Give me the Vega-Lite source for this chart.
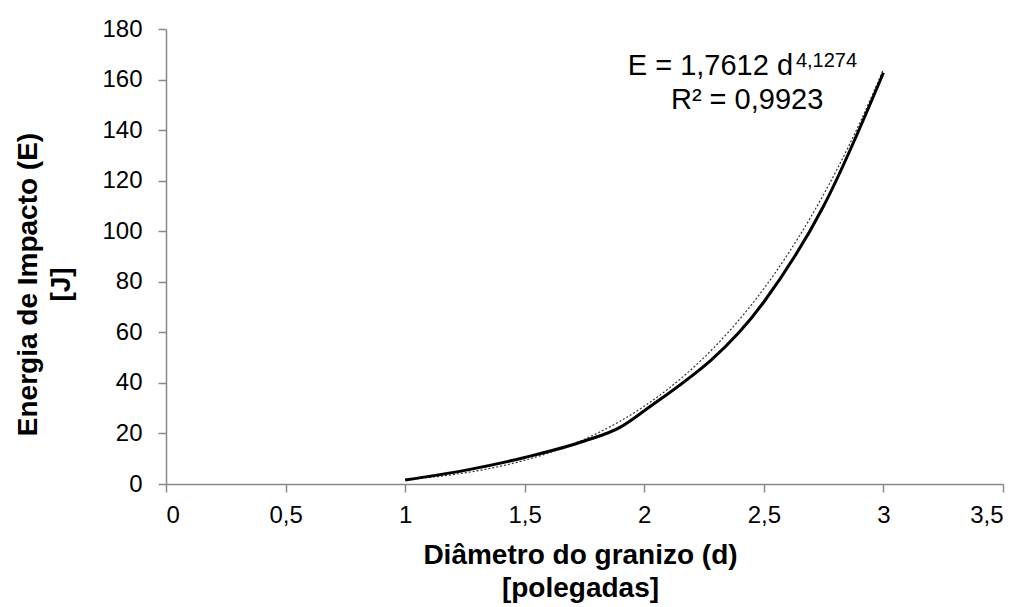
{
  "$schema": "https://vega.github.io/schema/vega-lite/v6.json",
  "autosize": {"type": "none"},
  "width": 837,
  "height": 455,
  "padding": {"left": 166, "top": 29, "right": 21, "bottom": 123},
  "background": "white",
  "config": {
    "view": {"stroke": null},
    "font": "Liberation Sans",
    "axis": {"grid": false, "domainColor": "#888888", "domainWidth": 1.5, "tickColor": "#888888", "tickWidth": 1.5, "tickSize": 8, "labelColor": "#000000", "labelFont": "Liberation Sans", "labelFontSize": 24, "titleFont": "Liberation Sans", "titleFontSize": 28, "titleFontWeight": "bold", "titleColor": "#000000", "titleLineHeight": 33}
  },
  "datasets": {
    "solid": [
      {"d": 1.0, "E": 1.6},
      {"d": 1.25, "E": 5.4},
      {"d": 1.5, "E": 10.5},
      {"d": 1.75, "E": 17.0},
      {"d": 1.9, "E": 22.5},
      {"d": 2.0, "E": 29.0},
      {"d": 2.5, "E": 72.0},
      {"d": 2.75, "E": 110.0},
      {"d": 3.0, "E": 162.7}
    ],
    "trend": [
      {"d": 1.0, "E": 1.76}, {"d": 1.1, "E": 2.61}, {"d": 1.2, "E": 3.74}, {"d": 1.3, "E": 5.2},
      {"d": 1.4, "E": 7.06}, {"d": 1.5, "E": 9.39}, {"d": 1.6, "E": 12.25}, {"d": 1.7, "E": 15.74},
      {"d": 1.8, "E": 19.93}, {"d": 1.9, "E": 24.91}, {"d": 2.0, "E": 30.78}, {"d": 2.1, "E": 37.65},
      {"d": 2.2, "E": 45.62}, {"d": 2.3, "E": 54.81}, {"d": 2.4, "E": 65.33}, {"d": 2.5, "E": 77.3},
      {"d": 2.6, "E": 90.9}, {"d": 2.7, "E": 106.2}, {"d": 2.8, "E": 123.4}, {"d": 2.9, "E": 142.6},
      {"d": 3.0, "E": 164.1}
    ],
    "labels": [
      {"d": 2.622, "E": 165.4, "text": "E = 1,7612 d", "part": "main"},
      {"d": 2.634, "E": 167.5, "text": "4,1274", "part": "sup"},
      {"d": 2.43, "E": 151.9, "text": "R² = 0,9923", "part": "r2"}
    ]
  },
  "layer": [
    {
      "data": {"name": "trend"},
      "mark": {"type": "line", "color": "#333333", "strokeWidth": 1.2, "strokeDash": [2, 2], "interpolate": "monotone"},
      "encoding": {
        "x": {"field": "d", "type": "quantitative", "scale": {"domain": [0, 3.5], "nice": false},
          "axis": {"values": [0, 0.5, 1, 1.5, 2, 2.5, 3, 3.5], "labelExpr": "replace(toString(datum.value), '.', ',')", "labelPadding": 11, "title": ["Diâmetro do granizo (d)", "[polegadas]"], "titleX": 414, "titleY": 71, "titleBaseline": "middle", "titleAnchor": "middle"}},
        "y": {"field": "E", "type": "quantitative", "scale": {"domain": [0, 180], "nice": false},
          "axis": {"values": [0, 20, 40, 60, 80, 100, 120, 140, 160, 180], "labelPadding": 16, "title": ["Energia de Impacto (E)", "[J]"], "titleX": -138, "titleY": 255, "titleBaseline": "middle", "titleAnchor": "middle"}}
      }
    },
    {
      "data": {"name": "solid"},
      "mark": {"type": "line", "color": "#000000", "strokeWidth": 3, "interpolate": "monotone"},
      "encoding": {
        "x": {"field": "d", "type": "quantitative"},
        "y": {"field": "E", "type": "quantitative"}
      }
    },
    {
      "data": {"name": "labels"},
      "transform": [{"filter": "datum.part == 'main'"}],
      "mark": {"type": "text", "align": "right", "baseline": "middle", "fontSize": 29, "font": "Liberation Sans", "color": "#000000"},
      "encoding": {
        "x": {"field": "d", "type": "quantitative"},
        "y": {"field": "E", "type": "quantitative"},
        "text": {"field": "text"}
      }
    },
    {
      "data": {"name": "labels"},
      "transform": [{"filter": "datum.part == 'sup'"}],
      "mark": {"type": "text", "align": "left", "baseline": "middle", "fontSize": 20, "font": "Liberation Sans", "color": "#000000"},
      "encoding": {
        "x": {"field": "d", "type": "quantitative"},
        "y": {"field": "E", "type": "quantitative"},
        "text": {"field": "text"}
      }
    },
    {
      "data": {"name": "labels"},
      "transform": [{"filter": "datum.part == 'r2'"}],
      "mark": {"type": "text", "align": "center", "baseline": "middle", "fontSize": 29, "font": "Liberation Sans", "color": "#000000"},
      "encoding": {
        "x": {"field": "d", "type": "quantitative"},
        "y": {"field": "E", "type": "quantitative"},
        "text": {"field": "text"}
      }
    }
  ]
}
